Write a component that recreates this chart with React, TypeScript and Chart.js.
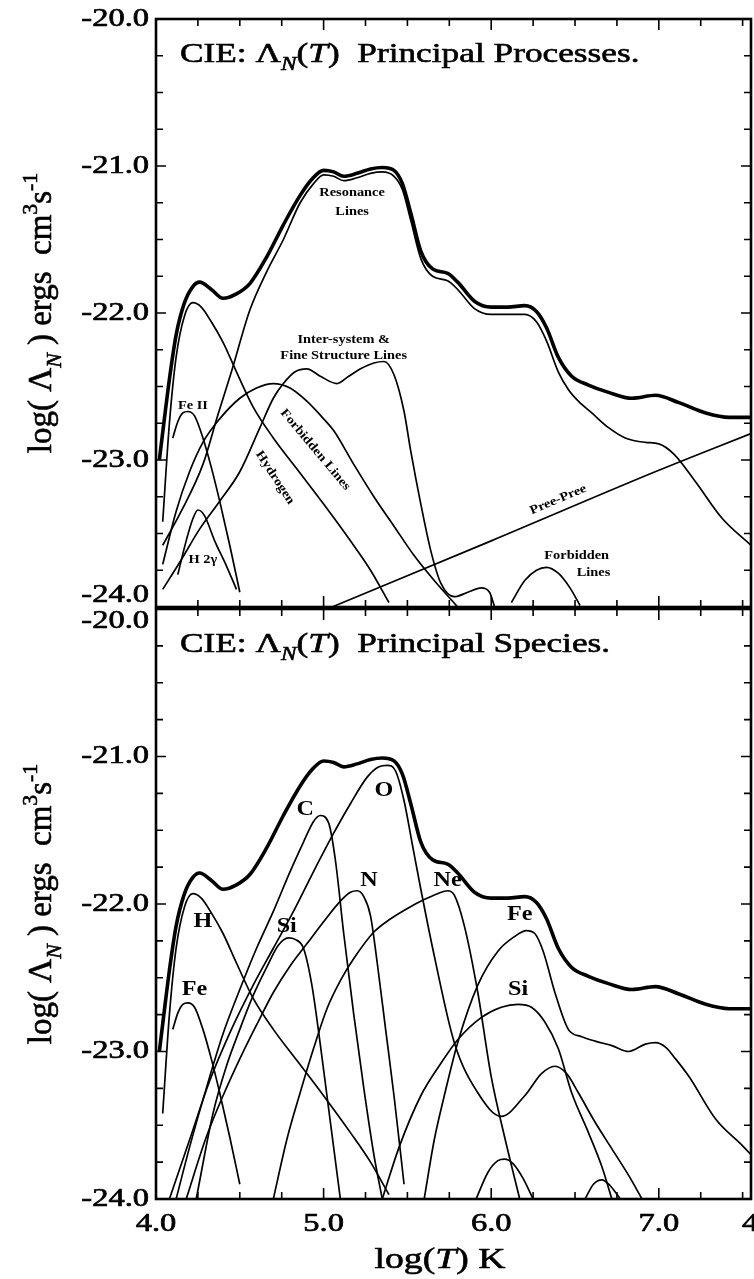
import React, { useEffect, useRef } from 'react';
import { Chart, registerables } from 'chart.js';

Chart.register(...registerables);

// ---------- axes ----------
const X_MIN = 4.0;
const X_MAX = 7.55;
const Y_MIN = -24;
const Y_MAX = -20;
const xTickValues = [4, 5, 6, 7];
const xTickLabels = ['4.0', '5.0', '6.0', '7.0'];
const yTickValues = [-20, -21, -22, -23, -24];
const yTickLabels = ['-20.0', '-21.0', '-22.0', '-23.0', '-24.0'];

// ---------- shared curves ----------
const totalT = [4.02, 4.05, 4.08, 4.12, 4.17, 4.22, 4.26, 4.33, 4.40, 4.48, 4.56, 4.66, 4.76, 4.86, 4.93, 5.00, 5.06, 5.12, 5.20, 5.28, 5.35, 5.42, 5.47, 5.52, 5.58, 5.65, 5.74, 5.80, 5.90, 6.00, 6.10, 6.20, 6.27, 6.33, 6.40, 6.48, 6.58, 6.70, 6.84, 6.98, 7.12, 7.28, 7.42, 7.55];
const totalV = [-23.0, -22.72, -22.45, -22.15, -21.93, -21.82, -21.79, -21.84, -21.90, -21.87, -21.80, -21.62, -21.40, -21.20, -21.09, -21.03, -21.04, -21.07, -21.05, -21.02, -21.01, -21.03, -21.12, -21.32, -21.58, -21.70, -21.73, -21.79, -21.92, -21.96, -21.96, -21.95, -21.99, -22.10, -22.30, -22.43, -22.49, -22.54, -22.58, -22.56, -22.61, -22.68, -22.71, -22.71];

const hydrogenT = [4.04, 4.08, 4.12, 4.17, 4.22, 4.27, 4.33, 4.40, 4.48, 4.58, 4.70, 4.84, 5.00, 5.16, 5.28, 5.39];
const hydrogenV = [-23.42, -22.75, -22.30, -22.02, -21.93, -21.96, -22.06, -22.20, -22.40, -22.64, -22.85, -23.06, -23.30, -23.55, -23.75, -23.97];

const feLowT = [4.10, 4.13, 4.16, 4.19, 4.23, 4.28, 4.33, 4.38, 4.44, 4.50];
const feLowV = [-22.85, -22.74, -22.68, -22.67, -22.70, -22.85, -23.05, -23.28, -23.58, -23.90];

// ---------- top panel: principal processes ----------
const resonanceT = [4.04, 4.15, 4.28, 4.37, 4.45, 4.56, 4.66, 4.76, 4.86, 4.94, 5.00, 5.06, 5.12, 5.20, 5.28, 5.35, 5.42, 5.47, 5.52, 5.58, 5.65, 5.74, 5.80, 5.90, 6.00, 6.10, 6.20, 6.27, 6.33, 6.40, 6.46, 6.52, 6.60, 6.70, 6.80, 6.92, 7.00, 7.09, 7.22, 7.38, 7.55];
const resonanceV = [-23.58, -23.35, -23.03, -22.69, -22.40, -21.98, -21.72, -21.50, -21.25, -21.12, -21.06, -21.07, -21.10, -21.08, -21.05, -21.04, -21.07, -21.16, -21.37, -21.63, -21.75, -21.78, -21.84, -21.97, -22.01, -22.01, -22.01, -22.06, -22.19, -22.40, -22.52, -22.60, -22.68, -22.78, -22.85, -22.88, -22.89, -22.96, -23.15, -23.40, -23.58];

const h2gT = [4.13, 4.18, 4.22, 4.25, 4.29, 4.35, 4.42, 4.48];
const h2gV = [-23.78, -23.55, -23.40, -23.34, -23.38, -23.55, -23.72, -23.88];

const intersysT = [4.04, 4.15, 4.26, 4.38, 4.50, 4.62, 4.70, 4.76, 4.83, 4.90, 4.98, 5.08, 5.15, 5.22, 5.30, 5.36, 5.42, 5.48, 5.52, 5.58, 5.64, 5.70, 5.78, 5.86, 5.94, 5.99, 6.02];
const intersysV = [-23.88, -23.68, -23.47, -23.28, -23.08, -22.78, -22.58, -22.48, -22.40, -22.38, -22.43, -22.48, -22.43, -22.38, -22.34, -22.33, -22.42, -22.67, -22.94, -23.30, -23.62, -23.84, -23.93, -23.90, -23.87, -23.90, -24.0];

const forbiddenT = [4.04, 4.12, 4.20, 4.28, 4.38, 4.50, 4.60, 4.70, 4.80, 4.90, 5.00, 5.06, 5.18, 5.30, 5.42, 5.54, 5.66, 5.80];
const forbiddenV = [-23.71, -23.35, -23.08, -22.88, -22.72, -22.58, -22.51, -22.48, -22.51, -22.60, -22.72, -22.80, -23.03, -23.25, -23.45, -23.65, -23.82, -24.0];

const forbiddenHotT = [6.12, 6.20, 6.27, 6.33, 6.40, 6.47, 6.53];
const forbiddenHotV = [-23.97, -23.82, -23.75, -23.73, -23.77, -23.87, -23.99];

const freeFreeT = [5.05, 6.0, 7.0, 7.55];
const freeFreeV = [-24.0, -23.55, -23.07, -22.82];

// ---------- bottom panel: principal species ----------
const carbonT = [4.12, 4.20, 4.30, 4.40, 4.50, 4.60, 4.70, 4.80, 4.88, 4.94, 4.98, 5.03, 5.07, 5.12, 5.18, 5.24, 5.30, 5.35];
const carbonV = [-24.0, -23.65, -23.25, -22.88, -22.58, -22.30, -22.05, -21.78, -21.58, -21.44, -21.40, -21.45, -21.70, -22.20, -22.75, -23.25, -23.70, -24.0];
const carbonHotT = [5.91, 5.98, 6.04, 6.08, 6.13, 6.19, 6.25];
const carbonHotV = [-24.0, -23.82, -23.74, -23.73, -23.76, -23.86, -24.0];

const oxygenT = [4.08, 4.20, 4.32, 4.45, 4.58, 4.70, 4.82, 4.94, 5.06, 5.16, 5.26, 5.33, 5.38, 5.43, 5.48, 5.53, 5.58, 5.66, 5.78, 5.92, 6.06, 6.20, 6.30, 6.38, 6.45, 6.52, 6.62, 6.72, 6.82, 6.90];
const oxygenV = [-24.0, -23.6, -23.2, -22.85, -22.55, -22.30, -22.05, -21.78, -21.52, -21.32, -21.14, -21.07, -21.06, -21.10, -21.30, -21.60, -21.90, -22.35, -22.94, -23.28, -23.44, -23.30, -23.15, -23.10, -23.15, -23.28, -23.48, -23.66, -23.84, -24.0];

const nitrogenT = [4.18, 4.30, 4.40, 4.50, 4.60, 4.70, 4.80, 4.90, 5.00, 5.10, 5.16, 5.20, 5.24, 5.28, 5.32, 5.37, 5.42, 5.48];
const nitrogenV = [-24.0, -23.58, -23.30, -23.05, -22.82, -22.60, -22.42, -22.27, -22.12, -21.98, -21.92, -21.91, -21.95, -22.08, -22.40, -22.85, -23.30, -23.90];

const siliconT = [4.24, 4.34, 4.42, 4.50, 4.58, 4.66, 4.73, 4.79, 4.83, 4.88, 4.93, 4.98, 5.02, 5.06, 5.10];
const siliconV = [-24.0, -23.42, -23.10, -22.85, -22.62, -22.43, -22.28, -22.23, -22.24, -22.30, -22.55, -22.95, -23.30, -23.65, -24.0];
const siliconHotT = [5.35, 5.45, 5.58, 5.70, 5.80, 5.94, 6.06, 6.16, 6.24, 6.32, 6.40, 6.48, 6.58, 6.66, 6.72];
const siliconHotV = [-24.0, -23.65, -23.30, -23.08, -22.92, -22.77, -22.70, -22.68, -22.70, -22.80, -22.98, -23.28, -23.55, -23.78, -24.0];

const neonT = [4.70, 4.78, 4.86, 4.94, 5.02, 5.10, 5.18, 5.30, 5.40, 5.50, 5.60, 5.68, 5.74, 5.78, 5.84, 5.92, 6.00, 6.08, 6.17];
const neonV = [-24.0, -23.60, -23.28, -22.98, -22.71, -22.52, -22.37, -22.19, -22.10, -22.03, -21.97, -21.93, -21.91, -21.94, -22.15, -22.60, -23.17, -23.58, -24.0];
const neonHotT = [6.56, 6.61, 6.66, 6.71, 6.77];
const neonHotV = [-24.0, -23.90, -23.87, -23.91, -24.0];

const ironHotT = [5.60, 5.66, 5.72, 5.80, 5.92, 6.04, 6.14, 6.21, 6.26, 6.31, 6.38, 6.46, 6.54, 6.62, 6.72, 6.82, 6.92, 6.98, 7.04, 7.10, 7.18, 7.34, 7.50, 7.55];
const ironHotV = [-24.0, -23.60, -23.30, -22.94, -22.55, -22.32, -22.22, -22.18, -22.20, -22.32, -22.60, -22.85, -22.90, -22.93, -22.96, -23.00, -22.95, -22.94, -22.97, -23.05, -23.17, -23.46, -23.64, -23.70];

// ---------- text ----------
type Seg = { t: string; sub?: boolean; sup?: boolean; it?: boolean };
const SERIF = '"Liberation Serif", "Times New Roman", serif';

const topTitle: Seg[] = [{ t: 'CIE: Λ' }, { t: 'N', sub: true, it: true }, { t: '(' }, { t: 'T', it: true }, { t: ')  Principal Processes.' }];
const bottomTitle: Seg[] = [{ t: 'CIE: Λ' }, { t: 'N', sub: true, it: true }, { t: '(' }, { t: 'T', it: true }, { t: ')  Principal Species.' }];
const yTitle: Seg[] = [{ t: 'log( Λ' }, { t: 'N', sub: true, it: true }, { t: ' ) ergs  cm' }, { t: '3', sup: true }, { t: 's' }, { t: '-1', sup: true }];
const xTitle: Seg[] = [{ t: 'log(' }, { t: 'T', it: true }, { t: ') K' }];

type Note = { text: string; x: number; y: number; rot?: number; size: number; bold?: boolean };
const topNotes: Note[] = [
  { text: 'Resonance', x: 5.17, y: -21.18, size: 12.5, bold: true },
  { text: 'Lines', x: 5.17, y: -21.31, size: 12.5, bold: true },
  { text: 'Inter-system &', x: 5.12, y: -22.18, size: 12.5, bold: true },
  { text: 'Fine Structure Lines', x: 5.12, y: -22.29, size: 12.5, bold: true },
  { text: 'Fe II', x: 4.22, y: -22.63, size: 12.5, bold: true },
  { text: 'H 2γ', x: 4.28, y: -23.68, size: 12.5, bold: true },
  { text: 'Hydrogen', x: 4.71, y: -23.12, size: 12.5, bold: true, rot: 57 },
  { text: 'Forbidden Lines', x: 4.95, y: -22.93, size: 12.5, bold: true, rot: 50 },
  { text: 'Pree-Pree', x: 6.40, y: -23.27, size: 12.5, bold: true, rot: -23 },
  { text: 'Forbidden', x: 6.51, y: -23.65, size: 12.5, bold: true },
  { text: 'Lines', x: 6.61, y: -23.77, size: 12.5, bold: true },
];
const bottomNotes: Note[] = [
  { text: 'C', x: 4.89, y: -21.36, size: 21, bold: true },
  { text: 'O', x: 5.36, y: -21.23, size: 21, bold: true },
  { text: 'N', x: 5.27, y: -21.84, size: 21, bold: true },
  { text: 'Ne', x: 5.74, y: -21.84, size: 21, bold: true },
  { text: 'H', x: 4.28, y: -22.12, size: 21, bold: true },
  { text: 'Si', x: 4.78, y: -22.15, size: 21, bold: true },
  { text: 'Fe', x: 4.23, y: -22.58, size: 21, bold: true },
  { text: 'Fe', x: 6.17, y: -22.07, size: 21, bold: true },
  { text: 'Si', x: 6.16, y: -22.58, size: 21, bold: true },
];

function pts(xs: number[], ys: number[]) {
  return xs.map((x, i) => ({ x, y: ys[i] }));
}

function fontFor(size: number, s: Seg, weight: string) {
  const sz = s.sub || s.sup ? size * 0.66 : size;
  return `${s.it ? 'italic ' : ''}${weight} ${sz}px ${SERIF}`;
}

function drawRich(ctx: CanvasRenderingContext2D, segs: Seg[], x: number, y: number, o: any) {
  const size = o.size;
  const align = o.align || 'left';
  const weight = o.weight || 'normal';
  ctx.save();
  ctx.translate(x, y);
  ctx.rotate(((o.rot || 0) * Math.PI) / 180);
  ctx.scale(o.sx || 1, o.sy || 1);
  ctx.textAlign = 'left';
  ctx.textBaseline = o.baseline || 'alphabetic';
  ctx.lineWidth = o.heavy || 0;
  ctx.strokeStyle = '#000';
  let w = 0;
  for (const s of segs) {
    ctx.font = fontFor(size, s, weight);
    w += ctx.measureText(s.t).width;
  }
  let cx = align === 'center' ? -w / 2 : align === 'right' ? -w : 0;
  for (const s of segs) {
    ctx.font = fontFor(size, s, weight);
    const dy = s.sub ? size * 0.3 : s.sup ? -size * 0.42 : 0;
    ctx.fillText(s.t, cx, dy);
    if (o.heavy) ctx.strokeText(s.t, cx, dy);
    cx += ctx.measureText(s.t).width;
  }
  ctx.restore();
}

const decorPlugin = {
  id: 'cieDecor',
  afterDraw(chart: any, _args: any, opts: any) {
    const { ctx, chartArea: a, scales } = chart;
    const xs = scales.x;
    const ys = scales.y;
    ctx.save();
    ctx.strokeStyle = '#000';
    ctx.fillStyle = '#000';
    // frame
    ctx.lineWidth = 2.6;
    ctx.strokeRect(a.left, a.top, a.right - a.left, a.bottom - a.top);
    // inward ticks
    ctx.lineWidth = 1.6;
    ctx.beginPath();
    for (let k = 0; 4 + k * 0.25 <= X_MAX + 1e-9; k++) {
      const v = 4 + k * 0.25;
      const px = xs.getPixelForValue(v);
      const len = k % 4 === 0 ? 11 : 7;
      ctx.moveTo(px, a.bottom);
      ctx.lineTo(px, a.bottom - len);
      ctx.moveTo(px, a.top);
      ctx.lineTo(px, a.top + len);
    }
    for (let k = 0; k <= 16; k++) {
      const v = Y_MIN + k * 0.25;
      const py = ys.getPixelForValue(v);
      const len = k % 4 === 0 ? 10 : 7;
      ctx.moveTo(a.left, py);
      ctx.lineTo(a.left + len, py);
      ctx.moveTo(a.right, py);
      ctx.lineTo(a.right - len, py);
    }
    ctx.stroke();

    // y tick labels
    yTickValues.forEach((v, i) => {
      let py = ys.getPixelForValue(v);
      if (opts.shiftBottomLabel && v === Y_MIN) py -= 12;
      if (opts.shiftTopLabel && v === Y_MAX) py += 12;
      drawRich(ctx, [{ t: yTickLabels[i] }], a.left - 7, py, { size: 26, align: 'right', baseline: 'middle', sx: 1.25, heavy: 0.7 });
    });
    // x tick labels
    if (opts.xLabels) {
      xTickValues.forEach((v, i) => {
        drawRich(ctx, [{ t: xTickLabels[i] }], xs.getPixelForValue(v), a.bottom + 32, { size: 26, align: 'center', sx: 1.25, heavy: 0.7 });
      });
      drawRich(ctx, [{ t: '4' }], 742, a.bottom + 32, { size: 26, align: 'left', sx: 1.25, heavy: 0.7 });
      drawRich(ctx, xTitle, 440, a.bottom + 69, { size: 29, align: 'center', sx: 1.3, heavy: 0.6 });
    }
    // panel title
    drawRich(ctx, opts.title, a.left + 24, a.top + 43, { size: 28, sx: 1.26, heavy: 0.6 });
    // y title
    drawRich(ctx, yTitle, 51, (a.top + a.bottom) / 2, { size: 33, align: 'center', rot: -90, heavy: 0.6 });
    // notes
    for (const n of opts.notes as Note[]) {
      drawRich(ctx, [{ t: n.text }], xs.getPixelForValue(n.x), ys.getPixelForValue(n.y), {
        size: n.size,
        align: 'center',
        baseline: 'middle',
        rot: n.rot || 0,
        sx: 1.15,
        weight: n.bold ? 'bold' : 'normal',
      });
    }
    ctx.restore();
  },
};

type Series = { x: number[]; y: number[]; w: number };

function makeConfig(series: Series[], padding: any, decor: any) {
  return {
    type: 'line' as const,
    data: {
      datasets: series.map((s) => ({
        data: pts(s.x, s.y),
        borderColor: '#000',
        borderWidth: s.w,
        pointRadius: 0,
        fill: false,
        cubicInterpolationMode: 'monotone' as const,
      })),
    },
    options: {
      animation: false as const,
      responsive: false,
      maintainAspectRatio: false,
      events: [],
      layout: { padding },
      scales: {
        x: { type: 'linear' as const, min: X_MIN, max: X_MAX, display: false },
        y: { type: 'linear' as const, min: Y_MIN, max: Y_MAX, display: false },
      },
      plugins: {
        legend: { display: false },
        tooltip: { enabled: false },
        cieDecor: decor,
      },
    },
    plugins: [decorPlugin],
  };
}

const THIN = 1.7;
const topSeries: Series[] = [
  { x: freeFreeT, y: freeFreeV, w: THIN },
  { x: forbiddenHotT, y: forbiddenHotV, w: THIN },
  { x: forbiddenT, y: forbiddenV, w: THIN },
  { x: intersysT, y: intersysV, w: THIN },
  { x: h2gT, y: h2gV, w: THIN },
  { x: feLowT, y: feLowV, w: THIN },
  { x: hydrogenT, y: hydrogenV, w: THIN },
  { x: resonanceT, y: resonanceV, w: THIN },
  { x: totalT, y: totalV, w: 3.6 },
];
const bottomSeries: Series[] = [
  { x: feLowT, y: feLowV, w: THIN },
  { x: hydrogenT, y: hydrogenV, w: THIN },
  { x: carbonT, y: carbonV, w: THIN },
  { x: carbonHotT, y: carbonHotV, w: THIN },
  { x: nitrogenT, y: nitrogenV, w: THIN },
  { x: oxygenT, y: oxygenV, w: THIN },
  { x: siliconT, y: siliconV, w: THIN },
  { x: siliconHotT, y: siliconHotV, w: THIN },
  { x: neonT, y: neonV, w: THIN },
  { x: neonHotT, y: neonHotV, w: THIN },
  { x: ironHotT, y: ironHotV, w: THIN },
  { x: totalT, y: totalV, w: 3.6 },
];

export default function App() {
  const topRef = useRef<HTMLCanvasElement>(null);
  const botRef = useRef<HTMLCanvasElement>(null);
  useEffect(() => {
    const c1 = new Chart(
      topRef.current as HTMLCanvasElement,
      makeConfig(topSeries, { left: 156, right: 3, top: 19, bottom: 5 }, {
        title: topTitle,
        notes: topNotes,
        shiftBottomLabel: true,
        xLabels: false,
      }) as any
    );
    const c2 = new Chart(
      botRef.current as HTMLCanvasElement,
      makeConfig(bottomSeries, { left: 156, right: 3, top: 9, bottom: 80 }, {
        title: bottomTitle,
        notes: bottomNotes,
        shiftTopLabel: true,
        xLabels: true,
      }) as any
    );
    return () => {
      c1.destroy();
      c2.destroy();
    };
  }, []);
  return (
    <div style={{ position: 'absolute', left: 0, top: 0, width: 754, height: 1279, background: '#fff' }}>
      <canvas ref={topRef} width={754} height={612} style={{ position: 'absolute', left: 0, top: 0, width: 754, height: 612 }} />
      <canvas ref={botRef} width={754} height={679} style={{ position: 'absolute', left: 0, top: 600, width: 754, height: 679 }} />
    </div>
  );
}
